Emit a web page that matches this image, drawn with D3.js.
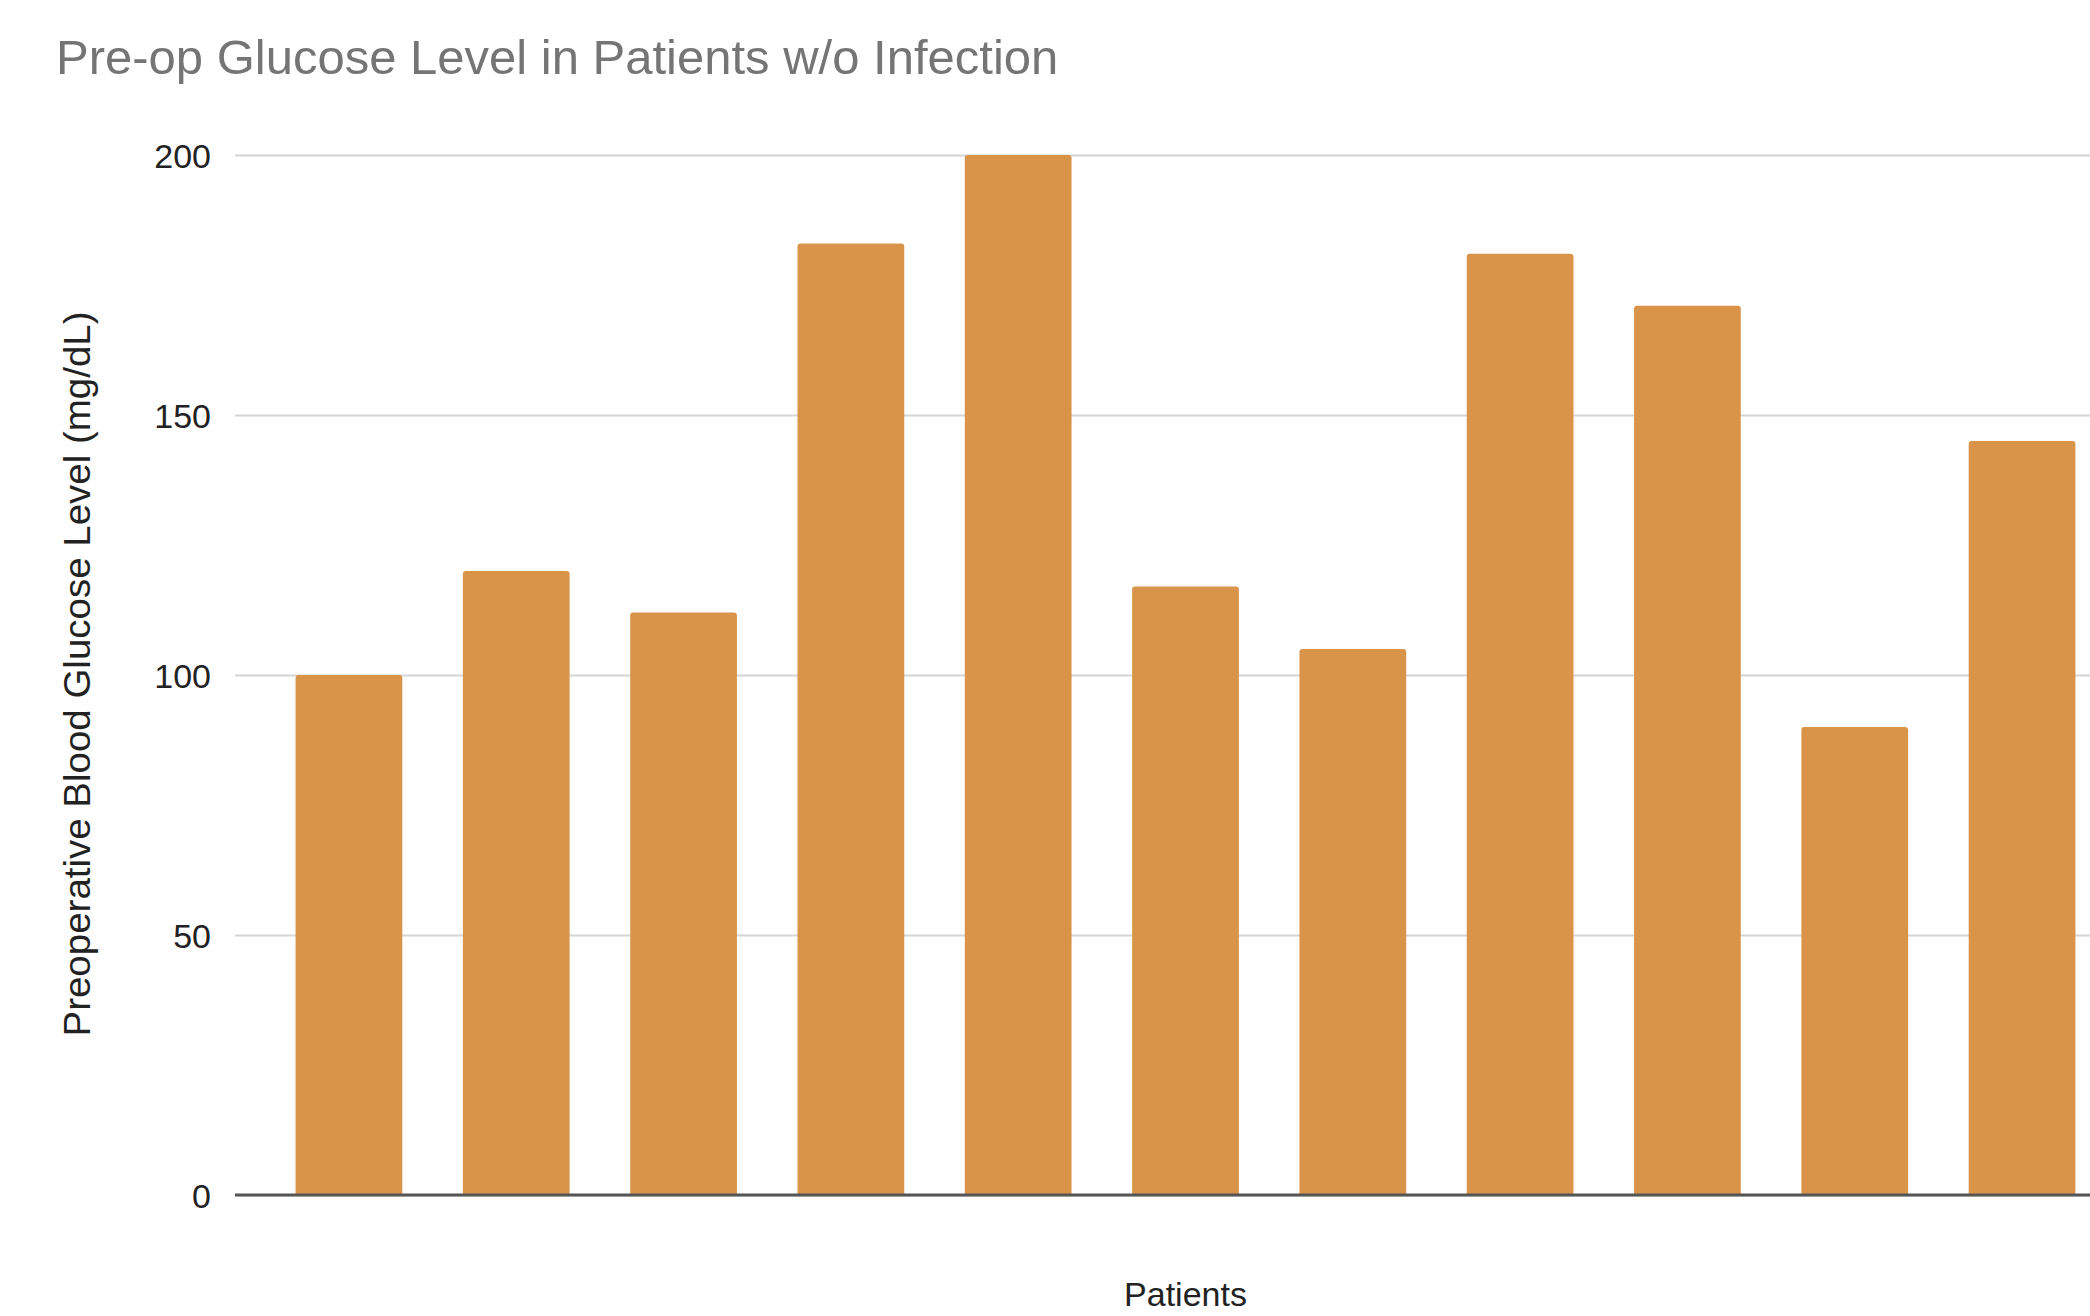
<!DOCTYPE html>
<html>
<head>
<meta charset="utf-8">
<script src="https://cdn.jsdelivr.net/npm/d3@7"></script>
<style>
  html, body { margin: 0; padding: 0; background: #ffffff; overflow: hidden; }
  svg { display: block; }
  text { font-family: "Liberation Sans", Arial, Helvetica, sans-serif; }
</style>
</head>
<body>
<svg id="chart" width="2090" height="1316"></svg>
<script>
// Preoperative glucose readings, one bar per patient
const patients = ["P1", "P2", "P3", "P4", "P5", "P6", "P7", "P8", "P9", "P10", "P11"];
const glucose = [100, 120, 112, 183, 200, 117, 105, 181, 171, 90, 145];
const yTicks = [0, 50, 100, 150, 200];

const chartTitle = "Pre-op Glucose Level in Patients w/o Infection";
const yTitle = "Preoperative Blood Glucose Level (mg/dL)";
const xTitle = "Patients";

const svg = d3.select("#chart");
const W = 2090, H = 1316;

// plot area (the band range runs past the right edge of the page)
const plot = { left: 235, right: 2136, top: 155, bottom: 1195 };

const x = d3.scaleBand()
  .domain(patients)
  .range([plot.left, plot.right])
  .paddingInner(0.362)
  .paddingOuter(0.362);

const y = d3.scaleLinear()
  .domain([0, 200])
  .range([plot.bottom, plot.top]);

svg.append("rect").attr("width", W).attr("height", H).attr("fill", "#ffffff");

// title
svg.append("text")
  .attr("x", 56)
  .attr("y", 74)
  .attr("font-size", 49)
  .attr("fill", "#757575")
  .text(chartTitle);

// horizontal gridlines and tick labels
const yAxis = d3.axisLeft(y)
  .tickValues(yTicks)
  .tickSize(-(plot.right - plot.left))
  .tickPadding(24)
  .tickFormat(d3.format("d"));

const gy = svg.append("g")
  .attr("transform", `translate(${plot.left},0)`)
  .call(yAxis);
gy.select(".domain").remove();
gy.selectAll(".tick line")
  .attr("stroke", "#d5d5d5")
  .attr("stroke-width", 2);
gy.selectAll(".tick text")
  .attr("font-size", 34)
  .attr("fill", "#222222")
  .attr("font-family", "'Liberation Sans', Arial, sans-serif")
  .attr("dy", "0.36em");

// bars with slightly rounded top corners
const r = 3;
svg.append("g")
  .selectAll("path")
  .data(glucose)
  .join("path")
  .attr("fill", "#d9944a")
  .attr("d", (v, i) => {
    const x0 = x(patients[i]);
    const w = x.bandwidth();
    const y0 = y(v);
    const yb = y(0);
    return `M${x0},${yb} L${x0},${y0 + r} Q${x0},${y0} ${x0 + r},${y0} ` +
           `L${x0 + w - r},${y0} Q${x0 + w},${y0} ${x0 + w},${y0 + r} L${x0 + w},${yb} Z`;
  });

// baseline at zero
svg.append("line")
  .attr("x1", plot.left)
  .attr("x2", plot.right)
  .attr("y1", y(0))
  .attr("y2", y(0))
  .attr("stroke", "#555555")
  .attr("stroke-width", 3);

// axis titles
svg.append("text")
  .attr("x", (plot.left + plot.right) / 2)
  .attr("y", 1306)
  .attr("text-anchor", "middle")
  .attr("font-size", 34)
  .attr("fill", "#222222")
  .text(xTitle);

svg.append("text")
  .attr("transform", "translate(90,674) rotate(-90)")
  .attr("text-anchor", "middle")
  .attr("font-size", 36)
  .attr("textLength", 725)
  .attr("lengthAdjust", "spacingAndGlyphs")
  .attr("fill", "#222222")
  .text(yTitle);
</script>
</body>
</html>
